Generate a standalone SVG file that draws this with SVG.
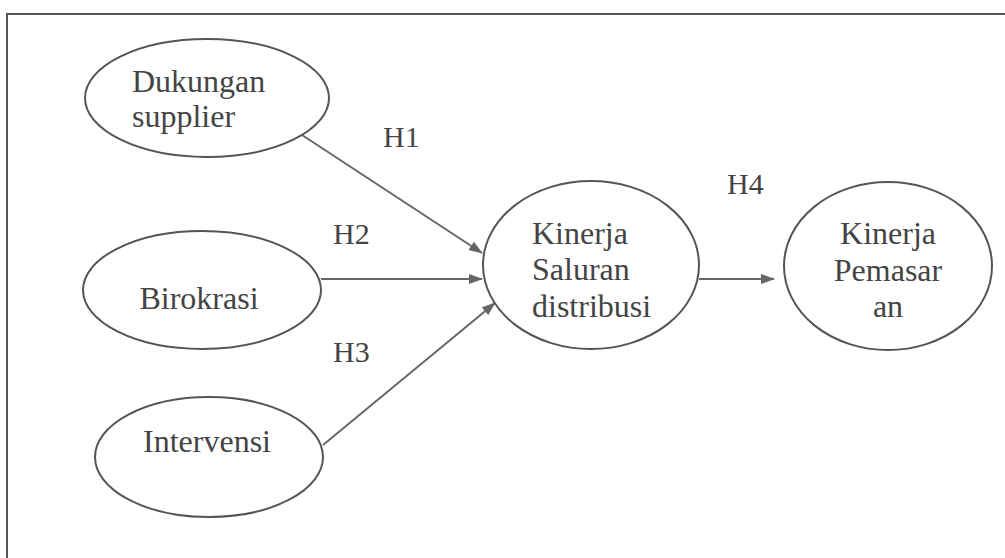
<svg xmlns="http://www.w3.org/2000/svg" width="1005" height="558" viewBox="0 0 1005 558">
<style>
.node ellipse{fill:#fff;stroke:#555;stroke-width:2}
.t{font-family:"Liberation Serif","Times New Roman",serif;font-size:32px;fill:#444}
.h{font-family:"Liberation Serif","Times New Roman",serif;font-size:30px;fill:#444}
.c line{stroke:#666;stroke-width:2}
</style>
<defs>
<marker id="arr" viewBox="0 0 14 10" refX="13" refY="5" markerWidth="14" markerHeight="10" markerUnits="userSpaceOnUse" orient="auto">
<path d="M0,0 L14,5 L0,10 Z" fill="#666"/>
</marker>
</defs>
<rect width="1005" height="558" fill="#fff"/>
<rect x="7" y="14" width="1010" height="560" fill="none" stroke="#555" stroke-width="2"/>
<g class="c" id="connectors">
<line x1="302" y1="135" x2="482" y2="253" marker-end="url(#arr)"/>
<line x1="321" y1="279" x2="482" y2="279" marker-end="url(#arr)"/>
<line x1="323" y1="445" x2="495" y2="303" marker-end="url(#arr)"/>
<line x1="699" y1="279" x2="774" y2="279" marker-end="url(#arr)"/>
</g>
<g id="labels">
<text class="h" x="383" y="147">H1</text>
<text class="h" x="333" y="244">H2</text>
<text class="h" x="333" y="362">H3</text>
<text class="h" x="727" y="194">H4</text>
</g>
<g class="node" id="n1">
<ellipse cx="207" cy="98" rx="122" ry="59"/>
<text class="t" x="132" y="92">Dukungan</text>
<text class="t" x="132" y="127">supplier</text>
</g>
<g class="node" id="n2">
<ellipse cx="202" cy="290" rx="119" ry="59"/>
<text class="t" x="199" y="309" text-anchor="middle">Birokrasi</text>
</g>
<g class="node" id="n3">
<ellipse cx="209" cy="457" rx="114" ry="60"/>
<text class="t" x="207" y="452" text-anchor="middle">Intervensi</text>
</g>
<g class="node" id="n4">
<ellipse cx="591" cy="265" rx="108" ry="84"/>
<text class="t" x="532" y="244">Kinerja</text>
<text class="t" x="532" y="280">Saluran</text>
<text class="t" x="532" y="317">distribusi</text>
</g>
<g class="node" id="n5">
<ellipse cx="888" cy="266" rx="104" ry="84"/>
<text class="t" x="888" y="244" text-anchor="middle">Kinerja</text>
<text class="t" x="888" y="281" text-anchor="middle">Pemasar</text>
<text class="t" x="888" y="317" text-anchor="middle">an</text>
</g>
</svg>
